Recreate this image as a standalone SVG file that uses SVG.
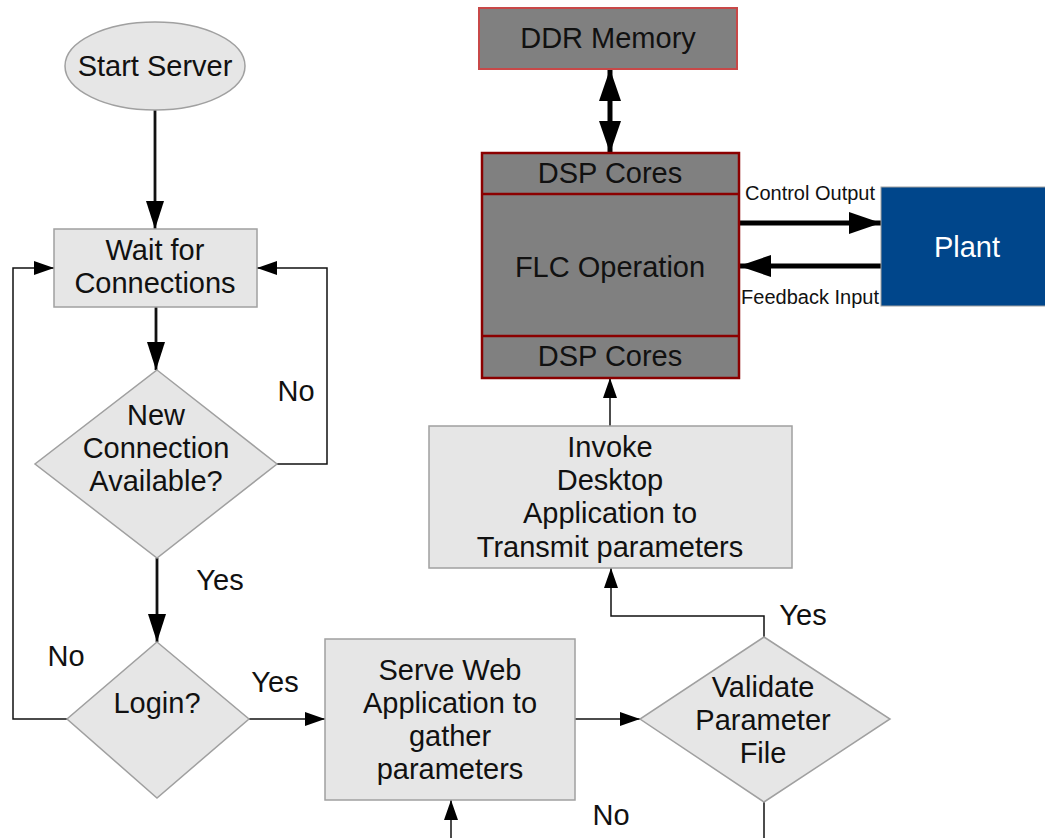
<svg xmlns="http://www.w3.org/2000/svg" width="1045" height="838" viewBox="0 0 1045 838">
<style>
text{font-family:"Liberation Sans",Arial,sans-serif;font-size:29px;fill:#111;text-anchor:middle}
.lbl{text-anchor:middle}
.small{font-size:20px}
.box{fill:#e6e6e6;stroke:#a0a0a0;stroke-width:1.5}
.dsp{fill:#808080;stroke:#8b0000;stroke-width:2.5}
.thin{fill:none;stroke:#111;stroke-width:1.5}
.thick{fill:none;stroke:#111;stroke-width:2.8}
.heavy{fill:none;stroke:#000;stroke-width:5}
</style>
<defs>
<marker id="aThick" markerUnits="userSpaceOnUse" markerWidth="28" markerHeight="18" viewBox="0 0 28 18" refX="28" refY="9" orient="auto"><path d="M0,0 L28,9 L0,18 z" fill="#000"/></marker>
<marker id="aThin" markerUnits="userSpaceOnUse" markerWidth="20" markerHeight="14" viewBox="0 0 20 14" refX="20" refY="7" orient="auto"><path d="M0,0 L20,7 L0,14 z" fill="#000"/></marker>
<marker id="aBig" markerUnits="userSpaceOnUse" markerWidth="32" markerHeight="22" viewBox="0 0 32 22" refX="32" refY="11" orient="auto-start-reverse"><path d="M0,0 L32,11 L0,22 z" fill="#000"/></marker>
</defs>
<rect width="1045" height="838" fill="#fff"/>

<g id="connectors">
<path class="thick" d="M155,110 V229" marker-end="url(#aThick)"/>
<path class="thick" d="M156,307 V370" marker-end="url(#aThick)"/>
<path class="thin" d="M277,464 H327 V268 H257" marker-end="url(#aThin)"/>
<path class="thick" d="M157,558 V642" marker-end="url(#aThick)"/>
<path class="thin" d="M67,719 H13 V268 H54" marker-end="url(#aThin)"/>
<path class="thin" d="M249,719 H325" marker-end="url(#aThin)"/>
<path class="thin" d="M575,719 H640" marker-end="url(#aThin)"/>
<path class="thin" d="M764,637 V616 H611 V568" marker-end="url(#aThin)"/>
<path class="thin" d="M764,802 V838"/>
<path class="thin" d="M451,838 V800" marker-end="url(#aThin)"/>
<path class="thin" d="M610,426 V378" marker-end="url(#aThin)"/>
<path class="heavy" d="M610,69 V153" marker-start="url(#aBig)" marker-end="url(#aBig)"/>
<path class="heavy" d="M739,223 H881" marker-end="url(#aBig)"/>
<path class="heavy" d="M881,266 H739" marker-end="url(#aBig)"/>
<text class="lbl" x="296" y="401">No</text>
<text class="lbl" x="220" y="590">Yes</text>
<text class="lbl" x="66" y="666">No</text>
<text class="lbl" x="275" y="692">Yes</text>
<text class="lbl" x="803" y="625">Yes</text>
<text class="lbl" x="611" y="825">No</text>
<text class="small" x="810" y="200">Control Output</text>
<text class="small" x="810" y="304">Feedback Input</text>
</g>

<g id="start">
<ellipse cx="155" cy="66" rx="90" ry="44" class="box"/>
<text x="155" y="76">Start Server</text>
</g>
<g id="wait">
<rect x="54" y="229" width="203" height="78" class="box"/>
<text x="155" y="260">Wait for</text>
<text x="155" y="293">Connections</text>
</g>
<g id="newconn">
<polygon points="157,370 277,464 157,558 35,464" class="box"/>
<text x="156" y="425">New</text>
<text x="156" y="458">Connection</text>
<text x="156" y="491">Available?</text>
</g>
<g id="login">
<polygon points="157,642 249,719 157,798 67,719" class="box"/>
<text x="157" y="713">Login?</text>
</g>
<g id="serve">
<rect x="325" y="639" width="250" height="161" class="box"/>
<text x="450" y="680">Serve Web</text>
<text x="450" y="713">Application to</text>
<text x="450" y="746">gather</text>
<text x="450" y="779">parameters</text>
</g>
<g id="validate">
<polygon points="764,637 890,719 764,802 640,719" class="box"/>
<text x="763" y="697">Validate</text>
<text x="763" y="730">Parameter</text>
<text x="763" y="763">File</text>
</g>
<g id="invoke">
<rect x="429" y="426" width="363" height="142" class="box"/>
<text x="610" y="457">Invoke</text>
<text x="610" y="490">Desktop</text>
<text x="610" y="523">Application to</text>
<text x="610" y="557">Transmit parameters</text>
</g>
<g id="ddr">
<rect x="479" y="8" width="258" height="61" fill="#808080" stroke="#c84848" stroke-width="2"/>
<text x="608" y="48">DDR Memory</text>
</g>
<g id="dsp">
<rect x="482" y="153" width="257" height="225" class="dsp"/>
<line x1="482" y1="194" x2="739" y2="194" stroke="#8b0000" stroke-width="2.5"/>
<line x1="482" y1="336" x2="739" y2="336" stroke="#8b0000" stroke-width="2.5"/>
<text x="610" y="183">DSP Cores</text>
<text x="610" y="277">FLC Operation</text>
<text x="610" y="366">DSP Cores</text>
</g>
<g id="plant">
<rect x="881" y="187" width="170" height="119" fill="#00468b" stroke="#a0a0a0" stroke-width="1"/>
<text x="967" y="257" style="fill:#fff">Plant</text>
</g>
</svg>
